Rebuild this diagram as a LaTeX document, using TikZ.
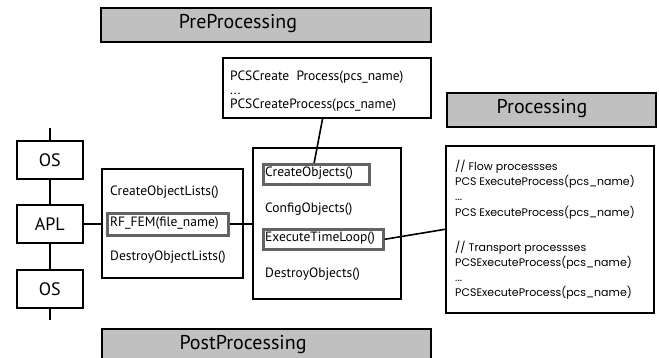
\documentclass[tikz,border=0pt]{standalone}
\usepackage{fontspec}
\setmainfont{PT Sans}
\newfontfamily\geofont{Poppins}
\usetikzlibrary{calc}
\definecolor{barfill}{RGB}{192,192,192}
\definecolor{innergray}{RGB}{100,100,100}
\begin{document}
\begin{tikzpicture}[x=1pt,y=-1pt,
  bar/.style={draw=black, line width=1.6pt, fill=barfill, inner sep=0pt, anchor=north west},
  bartext/.style={inner sep=0pt, font=\fontsize{20}{22}\selectfont},
  box/.style={draw=black, line width=1.6pt, inner sep=0pt, anchor=north west, fill=white},
  ibox/.style={draw=innergray, line width=2.6pt, inner sep=0pt, anchor=north west, fill=white},
  txt/.style={inner sep=0pt, anchor=west, font=\fontsize{13.5}{14}\selectfont},
  big/.style={font=\fontsize{18}{20}\selectfont},
  link/.style={line width=1.6pt}]
\clip (0,0) rectangle (659,358);
\fill[white] (0,0) rectangle (659,358);

% bars
\node[bar, minimum width=330, minimum height=34] (pre) at (100,7) {};
\node[bartext] (pretext) at (238,24) {PreProcessing};
\node[bar, minimum width=209, minimum height=34] (proc) at (446,92) {};
\node[bartext] (proctext) at (542,109) {Processing};
\node[bar, minimum width=329, minimum height=34] (post) at (101,328) {};
\node[bartext] (posttext) at (243,345) {PostProcessing};

% PCSCreate box
\node[box, minimum width=208, minimum height=60] (pcs) at (222,57) {};
\node[txt, anchor=north west, align=left, font=\fontsize{13.5}{14}\selectfont] (pcstext) at (230,71)
  {PCSCreate\ \ Process(pcs\_name)\\...\\PCSCreateProcess(pcs\_name)};

% OS / APL column
\node[box, minimum width=66, minimum height=38, big] (os1) at (16,140) {OS};
\node[box, minimum width=66, minimum height=38, big] (apl) at (16,204) {APL};
\node[box, minimum width=66, minimum height=38, big] (os2) at (16,269) {OS};
\coordinate (top) at ($(os1.north)+(0,-12)$);
\coordinate (bot) at ($(os2.south)+(0,11)$);

% left box
\node[box, minimum width=141, minimum height=109] (lbox) at (101,168) {};
\node[txt] (col) at (110,192) {CreateObjectLists()};
\node[ibox, minimum width=121, minimum height=22] (rf) at (106,212) {};
\node[txt] (rftext) at (110,223) {RF\_FEM(file\_name)};
\node[txt] (dol) at (110,257) {DestroyObjectLists()};

% middle box
\node[box, minimum width=148, minimum height=151] (mbox) at (252,147) {};
\node[ibox, minimum width=106, minimum height=20] (cobj) at (262,163) {};
\node[txt] (cobjtext) at (265,173) {CreateObjects()};
\node[txt] (cfg) at (265,209) {ConfigObjects()};
\node[ibox, minimum width=120, minimum height=20] (etl) at (262,228) {};
\node[txt] (etltext) at (265,238) {ExecuteTimeLoop()};
\node[txt] (dob) at (265,274) {DestroyObjects()};

% right box
\node[box, minimum width=208, minimum height=167] (rbox) at (445,145) {};
\node[inner sep=0pt, anchor=north west, align=left, font=\geofont\fontsize{11}{15.2}\selectfont] (rtext) at (455,160)
  {// Flow processses\\PCS ExecuteProcess(pcs\_name)\\...\\PCS ExecuteProcess(pcs\_name)\\[20pt]// Transport processses\\PCSExecuteProcess(pcs\_name)\\...\\PCSExecuteProcess(pcs\_name)};

% connectors
\draw[link] ($(pcs.south west)!0.48!(pcs.south east)$) -- ($(cobj.north west)!0.48!(cobj.north east)$);
\draw[link] (top) -- (os1.north);
\draw[link] (os1.south) -- (apl.north);
\draw[link] (apl.south) -- (os2.north);
\draw[link] (os2.south) -- (bot);
\draw[link] (apl.east) -- (apl.east -| lbox.west);
\draw[link] (rf.east) -- (rf.east -| mbox.west);
\draw[link] (etl.east) -- (rbox.west);
\end{tikzpicture}
\end{document}
